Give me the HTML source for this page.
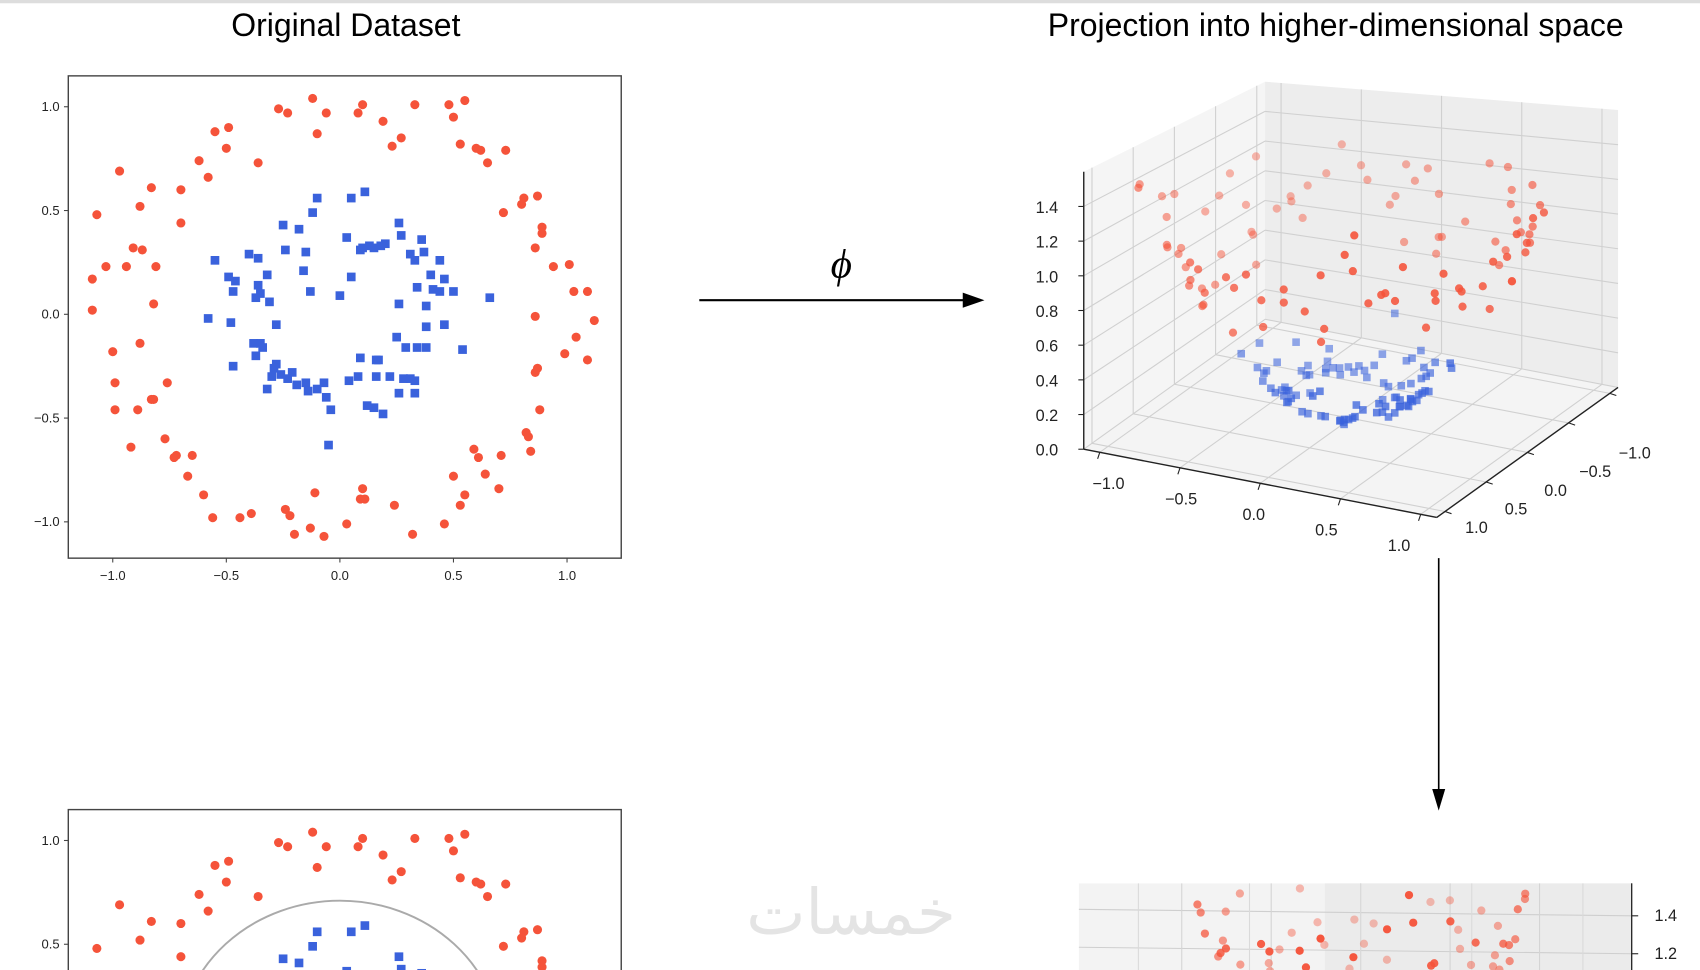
<!DOCTYPE html>
<html><head><meta charset="utf-8"><style>
html,body{margin:0;padding:0;background:#fff;overflow:hidden;width:1700px;height:970px;}
svg{display:block;font-family:"Liberation Sans","DejaVu Sans","Noto Sans CJK SC",sans-serif;}
</style></head><body>
<svg id="s" width="1700" height="970" viewBox="0 0 1568 895" preserveAspectRatio="none">
<rect x="0" y="0" width="1568" height="3" fill="#ddd"/>
<text x="319" y="33" font-size="29.5" text-anchor="middle">Original Dataset</text>
<text x="1232" y="33" font-size="29.5" text-anchor="middle">Projection into higher-dimensional space</text>
<g>
<line x1="645" y1="277" x2="892" y2="277" stroke="#000" stroke-width="2"/>
<polygon points="908,277 888,270 888,284" fill="#000"/>
<text x="776" y="256" font-size="38" font-style="italic" font-family="Liberation Serif,serif" text-anchor="middle">ϕ</text>
</g>
<g>
<line x1="1327" y1="515" x2="1327" y2="732" stroke="#000" stroke-width="1.5"/>
<polygon points="1327,748 1321,728 1333,728" fill="#000"/>
</g>
<text x="785" y="862" font-size="58" fill="#e4e4e4" text-anchor="middle" font-family="DejaVu Sans,sans-serif">خمسات</text>
<g id="p1"></g>
<g id="p2"></g>
<g id="p3"></g>
<g id="p4"></g>
</svg>
<script>
const redX=[-0.12,-0.27,-0.23,-0.06,0.08,0.10,0.19,0.33,0.48,0.55,0.50,-0.55,-0.49,-0.50,-0.10,0.23,0.27,0.53,0.60,0.62,0.73,0.65,-0.62,-0.36,-0.58,-0.97,-0.83,-0.70,-0.88,-1.07,-0.70,0.72,0.81,0.87,0.80,0.89,0.89,0.86,-0.91,-0.87,-1.03,-0.94,-0.81,0.94,1.01,-1.09,1.03,1.09,-0.82,-1.09,0.86,1.12,1.04,-0.88,-1.00,0.99,1.09,0.87,0.86,-0.99,-0.76,-0.83,-0.82,-0.99,-0.89,0.88,0.82,0.83,-0.92,-0.77,-0.72,-0.73,-0.65,0.59,0.61,0.71,0.84,-0.67,0.64,0.50,-0.60,0.55,0.70,-0.11,0.10,0.09,0.11,0.53,-0.56,-0.44,-0.39,-0.24,-0.22,0.24,0.46,-0.20,-0.13,-0.07,0.03,0.32];
const redY=[1.04,0.99,0.97,0.97,0.97,1.01,0.93,1.01,1.01,1.03,0.95,0.88,0.90,0.80,0.87,0.81,0.85,0.82,0.80,0.79,0.79,0.73,0.74,0.73,0.66,0.69,0.61,0.60,0.52,0.48,0.44,0.49,0.56,0.57,0.53,0.42,0.39,0.32,0.32,0.31,0.23,0.23,0.23,0.23,0.24,0.17,0.11,0.11,0.05,0.02,-0.01,-0.03,-0.11,-0.14,-0.18,-0.19,-0.22,-0.26,-0.28,-0.33,-0.33,-0.41,-0.41,-0.46,-0.46,-0.46,-0.57,-0.59,-0.64,-0.60,-0.68,-0.69,-0.68,-0.65,-0.69,-0.68,-0.66,-0.78,-0.77,-0.78,-0.87,-0.87,-0.84,-0.86,-0.84,-0.89,-0.89,-0.92,-0.98,-0.98,-0.96,-0.94,-0.97,-0.92,-1.01,-1.06,-1.03,-1.07,-1.01,-1.06];
const blueX=[-0.10,0.05,0.11,-0.12,-0.25,-0.18,0.26,0.03,0.10,0.13,0.15,0.18,0.20,0.27,0.36,-0.24,-0.15,0.09,-0.40,-0.36,-0.55,0.31,0.37,0.33,0.44,-0.49,-0.46,-0.32,-0.36,-0.16,0.05,0.40,0.46,0.34,0.41,0.44,0.50,-0.47,-0.35,-0.37,-0.13,0.00,0.66,-0.31,0.26,0.38,-0.58,-0.48,-0.28,0.46,0.38,0.25,-0.38,-0.35,-0.34,0.29,0.34,0.54,-0.37,-0.47,0.09,0.16,0.17,0.38,-0.29,-0.28,-0.26,-0.21,-0.30,-0.23,0.04,0.08,0.16,0.22,0.28,0.31,0.33,-0.19,-0.15,-0.07,-0.10,-0.32,-0.14,0.26,0.33,-0.06,0.12,0.15,0.19,-0.04,-0.05];
const blueY=[0.56,0.56,0.59,0.49,0.43,0.41,0.44,0.37,0.32,0.33,0.32,0.33,0.34,0.38,0.36,0.31,0.30,0.31,0.29,0.27,0.26,0.29,0.30,0.26,0.26,0.18,0.16,0.19,0.14,0.21,0.18,0.19,0.17,0.13,0.12,0.11,0.11,0.11,0.10,0.08,0.11,0.09,0.08,0.06,0.05,0.04,-0.02,-0.04,-0.05,-0.05,-0.06,-0.11,-0.14,-0.14,-0.16,-0.16,-0.16,-0.17,-0.20,-0.25,-0.21,-0.22,-0.22,-0.16,-0.26,-0.24,-0.29,-0.28,-0.30,-0.31,-0.32,-0.30,-0.30,-0.30,-0.31,-0.31,-0.32,-0.34,-0.33,-0.33,-0.36,-0.36,-0.37,-0.38,-0.38,-0.40,-0.44,-0.45,-0.48,-0.46,-0.63];
const xTicks=[-1.0,-0.5,0.0,0.5,1.0];
const yTicks=[-1.0,-0.5,0.0,0.5,1.0];
const zTicks=[0.0,0.2,0.4,0.6,0.8,1.0,1.2,1.4];
const zSideTicks=[1.2,1.4];
const boundaryRadius=0.71;

const NS='http://www.w3.org/2000/svg';
function mk(parent,tag,attrs){const e=document.createElementNS(NS,tag);for(const k in attrs)e.setAttribute(k,attrs[k]);parent.appendChild(e);return e;}
const RED='#f5533a',BLUE='#3a62dc';
const fmt=v=>v.toFixed(1).replace('-','−');

function scatter2d(g,top,withCircle){
  const sx=v=>313.5+v*209.5, sy=v=>top+220+ -v*191.5;
  const L=63,R=573,T=top,B=top+445;
  const cid='c'+top;
  const cp=mk(g,'clipPath',{id:cid});mk(cp,'rect',{x:L,y:T,width:R-L,height:B-T});
  const frame=mk(g,'rect',{x:L,y:T,width:R-L,height:B-T,fill:'none',stroke:'#444','stroke-width':1.3});
  
  xTicks.forEach(t=>{const x=sx(t);if(B+20<895){mk(g,'line',{x1:x,y1:B,x2:x,y2:B+4,stroke:'#444'});
    const tx=mk(g,'text',{x:x,y:B+20,'font-size':12,'text-anchor':'middle',fill:'#222'});tx.textContent=fmt(t);
    }});
  yTicks.forEach(t=>{const y=sy(t);if(y>890)return;mk(g,'line',{x1:L-4,y1:y,x2:L,y2:y,stroke:'#444'});
    const tx=mk(g,'text',{x:L-8,y:y+4,'font-size':12,'text-anchor':'end',fill:'#222'});tx.textContent=fmt(t);
    });
  const pg=mk(g,'g',{'clip-path':'url(#'+cid+')'});
  redX.forEach((x,i)=>{const c=mk(pg,'circle',{cx:sx(x),cy:sy(redY[i]),r:4.2,fill:RED});
    });
  blueX.forEach((x,i)=>{const r=mk(pg,'rect',{x:sx(x)-4,y:sy(blueY[i])-4,width:8,height:8,fill:BLUE});
    });
  if(withCircle){const e=mk(pg,'ellipse',{cx:sx(0),cy:sy(0),rx:boundaryRadius*209.5,ry:boundaryRadius*191.5,fill:'none',stroke:'#aaa','stroke-width':1.8});
    }
}
scatter2d(document.getElementById('p1'),70,false);
scatter2d(document.getElementById('p3'),747,true);

// 3D projection with simple depth-dependent vertical scale
(function(){
  const g=document.getElementById('p2');
  const O=[1246,386],ex=[148,28.6],ey=[-76,54.5];
  const P=(x,y,z)=>{const t=(x+y)/2.2;const zs=160+23*t;return [O[0]+x*ex[0]+y*ey[0],O[1]+x*ex[1]+y*ey[1]-z*zs];};
  const m=1.1,zt=1.6;
  const poly=(pts,fill)=>mk(g,'polygon',{points:pts.map(p=>p.join(',')).join(' '),fill:fill,stroke:'none'});
  const f=poly([P(-m,-m,0),P(m,-m,0),P(m,m,0),P(-m,m,0)],'#f4f4f4');
  const w1=poly([P(-m,-m,0),P(m,-m,0),P(m,-m,zt),P(-m,-m,zt)],'#ededed');
  const w2=poly([P(-m,-m,0),P(-m,m,0),P(-m,m,zt),P(-m,-m,zt)],'#f5f5f5');
  const ln=(a,b,st,w)=>mk(g,'line',{x1:a[0],y1:a[1],x2:b[0],y2:b[1],stroke:st,'stroke-width':w});
  xTicks.forEach(t=>{ln(P(t,-m,0),P(t,m,0),'#d0d0d0',1);ln(P(t,-m,0),P(t,-m,zt),'#d0d0d0',1);});
  yTicks.forEach(t=>{ln(P(-m,t,0),P(m,t,0),'#d0d0d0',1);ln(P(-m,t,0),P(-m,t,zt),'#d0d0d0',1);});
  zTicks.forEach(t=>{ln(P(-m,-m,t),P(m,-m,t),'#d0d0d0',1);ln(P(-m,-m,t),P(-m,m,t),'#d0d0d0',1);});
  ln(P(-m,m,0),P(m,m,0),'#222',1.3);ln(P(m,m,0),P(m,-m,0),'#222',1.3);ln(P(-m,m,0),P(-m,m,zt),'#222',1.3);
  const pts=[];
  redX.forEach((x,i)=>pts.push({x,y:redY[i],c:RED,sq:false}));
  blueX.forEach((x,i)=>pts.push({x,y:blueY[i],c:BLUE,sq:true}));
  pts.forEach(p=>{p.z=p.x*p.x+p.y*p.y;p.d=p.x+p.y;});
  pts.sort((a,b)=>a.d-b.d);
  pts.forEach(p=>{const s=P(p.x,p.y,p.z);const op=0.3+0.7*(p.d+2.2)/4.4;
    let e;if(p.sq)e=mk(g,'rect',{x:s[0]-3.5,y:s[1]-3.5,width:7,height:7,fill:p.c,opacity:op.toFixed(2)});
    else e=mk(g,'circle',{cx:s[0],cy:s[1],r:3.8,fill:p.c,opacity:op.toFixed(2)});
    });
  const lab=(x,y,t,nm)=>{const e=mk(g,'text',{x,y,'font-size':15,'text-anchor':'middle',fill:'#222'});e.textContent=t;};
  zTicks.forEach(t=>{const s=P(-m,m,t);ln([s[0]-5,s[1]],[s[0],s[1]],'#222',1);lab(s[0]-34,s[1]+6,fmt(t),'z-tick-label');});
  xTicks.forEach(t=>{const s=P(t,m,0);ln(s,[s[0]-2,s[1]+6],'#222',1);lab(s[0]+(-t*14)-6,s[1]+34,fmt(t),'x-tick-label');});
  yTicks.forEach(t=>{const s=P(m,t,0);ln(s,[s[0]+6,s[1]+2],'#222',1);lab(s[0]+26+t*3,s[1]+40-t*20,fmt(t),'y-tick-label');});
})();

// side 3D view (bottom right, clipped)
(function(){
  const g=document.getElementById('p4');
  const cp=mk(g,'clipPath',{id:'c4'});mk(cp,'rect',{x:995,y:815,width:560,height:80});
  const gg=mk(g,'g',{'clip-path':'url(#c4)'});
  const bg=mk(gg,'rect',{x:995,y:815,width:510,height:80,fill:'#f3f3f3'});
  mk(gg,'rect',{x:1222,y:815,width:283,height:80,fill:'#ebebeb'});
  const sz=z=>845+(1.4-z)*175;
  const sp=z=>826+(1.25-z)*260;
  [1.4,1.2,1.0].forEach(t=>mk(gg,'line',{x1:995,y1:sz(t)-6,x2:1505,y2:sz(t),stroke:'#cfcfcf'}));
  [-1,-0.5,0,0.5,1].forEach(t=>{const x=1255+t*165;mk(gg,'line',{x1:x,y1:815,x2:x,y2:895,stroke:'#d4d4d4'});});
  [-1,-0.5,0,0.5,1].forEach(t=>{const x=1255+t*205;mk(gg,'line',{x1:x,y1:815,x2:x,y2:895,stroke:'#dadada'});});
  const pts=[];redX.forEach((x,i)=>pts.push({x,y:redY[i]}));
  pts.forEach(p=>{p.z=p.x*p.x+p.y*p.y;const sx=1255+135*p.x-20*p.y;const op=0.35+0.65*(p.y+1.1)/2.2;
    const c=mk(gg,'circle',{cx:sx,cy:sp(p.z),r:3.8,fill:RED,opacity:op.toFixed(2)});
    });
  mk(g,'line',{x1:1505,y1:815,x2:1505,y2:895,stroke:'#222','stroke-width':1.2});
  zSideTicks.forEach(t=>{const y=sz(t);mk(g,'line',{x1:1505,y1:y,x2:1511,y2:y,stroke:'#222'});
    const e=mk(g,'text',{x:1526,y:y+5,'font-size':15,fill:'#222'});e.textContent=t.toFixed(1);
    });
})();
</script>
</body></html>
